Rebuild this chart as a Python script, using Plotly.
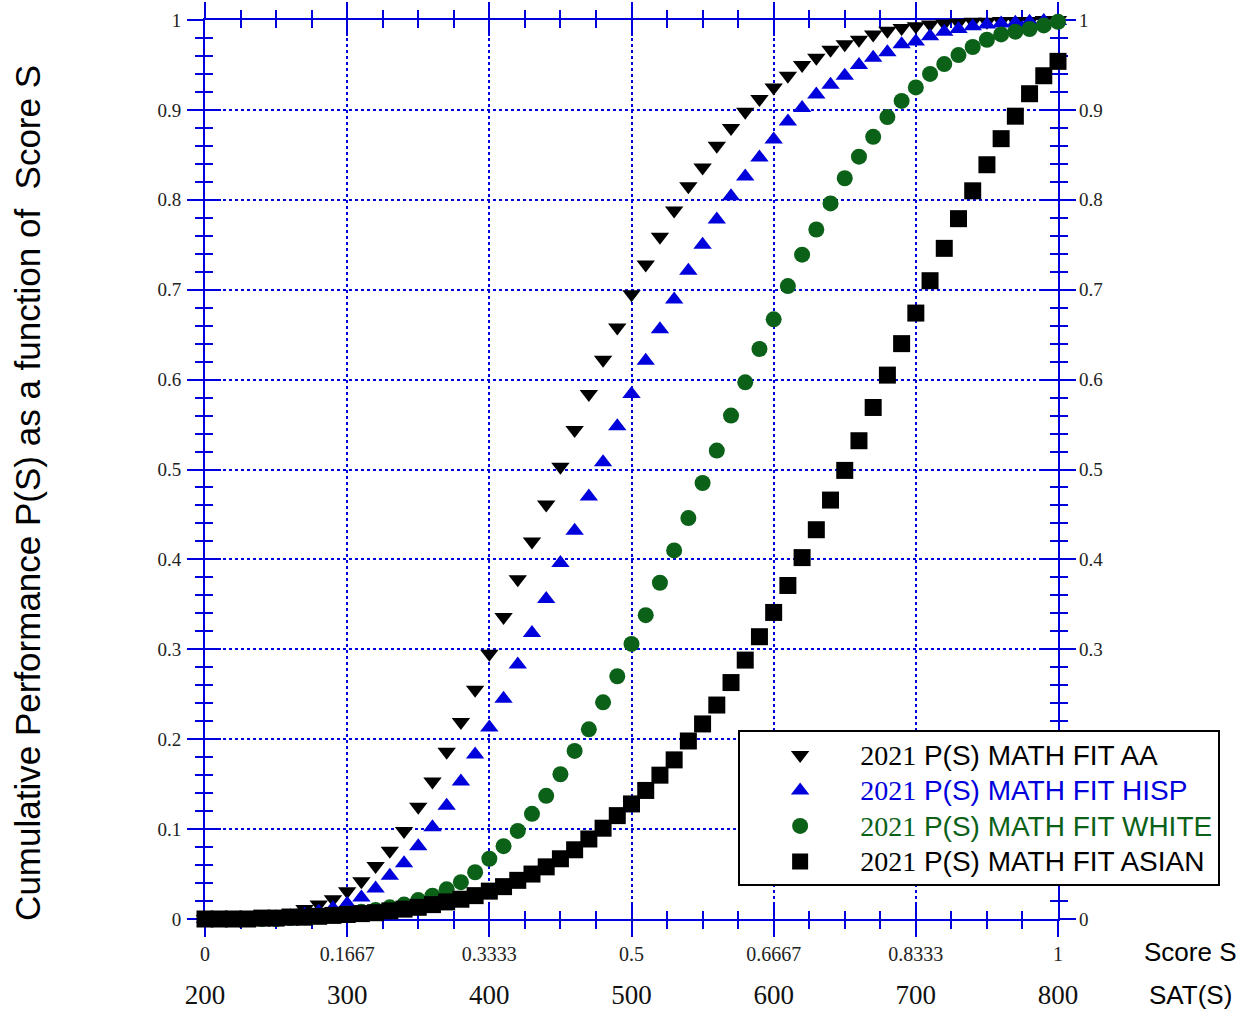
import plotly.graph_objects as go

# ---------------- data ----------------
sat_scores = list(range(200, 810, 10))  # 61 SAT scores, S = (SAT-200)/600

p_aa = [0.000, 0.000, 0.000, 0.001, 0.002, 0.004, 0.007, 0.011, 0.016, 0.022,
        0.031, 0.042, 0.059, 0.076, 0.098, 0.125, 0.153, 0.186, 0.219, 0.255,
        0.295, 0.336, 0.378, 0.420, 0.461, 0.503, 0.544, 0.584, 0.622, 0.658,
        0.695, 0.728, 0.759, 0.788, 0.815, 0.836, 0.860, 0.880, 0.898, 0.912,
        0.925, 0.938, 0.950, 0.958, 0.967, 0.973, 0.978, 0.984, 0.988, 0.991,
        0.993, 0.995, 0.996, 0.997, 0.998, 0.998, 0.999, 0.999, 0.999, 1.000,
        1.000]

p_hisp = [0.000, 0.000, 0.000, 0.000, 0.001, 0.002, 0.003, 0.005, 0.008, 0.012,
          0.017, 0.024, 0.034, 0.048, 0.062, 0.081, 0.102, 0.126, 0.153, 0.183,
          0.213, 0.245, 0.283, 0.318, 0.356, 0.396, 0.432, 0.470, 0.508, 0.548,
          0.584, 0.621, 0.656, 0.689, 0.721, 0.750, 0.778, 0.804, 0.826, 0.847,
          0.867, 0.887, 0.902, 0.917, 0.928, 0.938, 0.950, 0.958, 0.964, 0.973,
          0.976, 0.982, 0.987, 0.990, 0.993, 0.995, 0.996, 0.997, 0.998, 0.999,
          0.999]

p_white = [0.000, 0.000, 0.000, 0.000, 0.000, 0.000, 0.001, 0.002, 0.003, 0.004,
           0.006, 0.008, 0.010, 0.013, 0.016, 0.021, 0.026, 0.033, 0.041, 0.052,
           0.067, 0.081, 0.098, 0.117, 0.137, 0.161, 0.187, 0.211, 0.241, 0.270,
           0.306, 0.338, 0.374, 0.410, 0.446, 0.485, 0.521, 0.560, 0.597, 0.634,
           0.667, 0.704, 0.739, 0.767, 0.796, 0.824, 0.848, 0.870, 0.892, 0.910,
           0.925, 0.940, 0.951, 0.961, 0.970, 0.978, 0.984, 0.987, 0.990, 0.994,
           0.998]

p_asian = [0.000, 0.000, 0.000, 0.000, 0.001, 0.001, 0.002, 0.002, 0.003, 0.004,
           0.005, 0.006, 0.007, 0.009, 0.011, 0.013, 0.016, 0.019, 0.022, 0.026,
           0.031, 0.036, 0.043, 0.050, 0.058, 0.067, 0.077, 0.089, 0.101, 0.115,
           0.128, 0.143, 0.160, 0.177, 0.198, 0.217, 0.238, 0.263, 0.288, 0.314,
           0.341, 0.371, 0.402, 0.433, 0.466, 0.499, 0.532, 0.569, 0.605, 0.640,
           0.674, 0.710, 0.746, 0.779, 0.810, 0.839, 0.868, 0.893, 0.918, 0.938,
           0.954]

series_labels = ["2021 P(S) MATH FIT AA", "2021 P(S) MATH FIT HISP",
                 "2021 P(S) MATH FIT WHITE", "2021 P(S) MATH FIT ASIAN"]

x_tick_values = [200, 300, 400, 500, 600, 700, 800]
s_tick_labels = ["0", "0.1667", "0.3333", "0.5", "0.6667", "0.8333", "1"]
sat_tick_labels = ["200", "300", "400", "500", "600", "700", "800"]
y_tick_values = [0, 0.1, 0.2, 0.3, 0.4, 0.5, 0.6, 0.7, 0.8, 0.9, 1.0]
y_tick_labels = ["0", "0.1", "0.2", "0.3", "0.4", "0.5", "0.6", "0.7", "0.8", "0.9", "1"]

# ---------------- styles ----------------
BLUE = "#0000dd"
GREEN = "#0b6118"
SERIF = "Liberation Serif, Times New Roman, serif"
SANS = "Liberation Sans, Arial, sans-serif"

series_styles = [
    dict(values=p_aa, color="black", symbol="triangle-down", size=16, text_color="black"),
    dict(values=p_hisp, color="#0000dd", symbol="triangle-up", size=16, text_color="#0000dd"),
    dict(values=p_white, color=GREEN, symbol="circle", size=16, text_color=GREEN),
    dict(values=p_asian, color="black", symbol="square", size=17, text_color="black"),
]

fig = go.Figure()
for label, st in zip(series_labels, series_styles):
    year, rest = label.split(" ", 1)
    name = (f'<span style="color:{st["text_color"]};font-size:28px">'
            f'<span style="font-family:Liberation Serif">{year}</span> {rest}</span>')
    fig.add_trace(go.Scatter(
        x=sat_scores, y=st["values"], mode="markers", name=name,
        marker=dict(symbol=st["symbol"], size=st["size"], color=st["color"],
                    line=dict(width=0)),
        cliponaxis=False,
    ))

# invisible trace for the overlay axes
fig.add_trace(go.Scatter(x=[None], y=[None], xaxis="x2", yaxis="y2",
                         showlegend=False, hoverinfo="skip"))

tick_common = dict(tickcolor=BLUE, tickwidth=2, ticklen=16)
minor_common = dict(tickcolor=BLUE, tickwidth=2, ticklen=8, showgrid=False)

fig.update_layout(
    width=1255, height=1014,
    margin=dict(l=205, r=197, t=20, b=95, autoexpand=False),
    paper_bgcolor="white", plot_bgcolor="white",
    showlegend=True,
    xaxis=dict(
        range=[200, 800], tickmode="array", tickvals=x_tick_values, ticktext=s_tick_labels,
        ticks="outside", **tick_common, mirror="ticks", automargin=False,
        showline=True, linecolor=BLUE, linewidth=2,
        showgrid=True, gridcolor=BLUE, gridwidth=1.5, griddash="dot",
        zeroline=False, layer="below traces",
        minor=dict(tick0=200, dtick=25, ticks="outside", **minor_common),
        tickfont=dict(family=SERIF, size=20, color="#222222"),
        ticklabelstandoff=0,
    ),
    xaxis2=dict(
        overlaying="x", anchor="y", side="bottom", matches="x", automargin=False,
        range=[200, 800], tickmode="array", tickvals=x_tick_values, ticktext=sat_tick_labels,
        ticks="inside", **tick_common, mirror="ticks",
        showline=False, showgrid=False, zeroline=False, layer="below traces",
        minor=dict(tick0=200, dtick=25, ticks="inside", **minor_common),
        tickfont=dict(family=SERIF, size=27, color="#111111"),
        ticklabelstandoff=57,
    ),
    yaxis=dict(
        range=[0, 1], tickmode="array", tickvals=y_tick_values, ticktext=y_tick_labels,
        ticks="outside", **tick_common, mirror="ticks", automargin=False,
        showline=True, linecolor=BLUE, linewidth=2,
        showgrid=True, gridcolor=BLUE, gridwidth=1.5, griddash="dot",
        zeroline=False, layer="below traces",
        minor=dict(tick0=0, dtick=0.02, ticks="outside", **minor_common),
        tickfont=dict(family=SERIF, size=19, color="#222222"),
        ticklabelstandoff=2,
    ),
    yaxis2=dict(
        overlaying="y", anchor="x", side="right", matches="y", automargin=False,
        range=[0, 1], tickmode="array", tickvals=y_tick_values, ticktext=y_tick_labels,
        ticks="inside", **tick_common, mirror="ticks",
        showline=False, showgrid=False, zeroline=False, layer="below traces",
        minor=dict(tick0=0, dtick=0.02, ticks="inside", **minor_common),
        tickfont=dict(family=SERIF, size=19, color="#222222"),
        ticklabelstandoff=20,
    ),
    legend=dict(
        x=0.625, y=0.21, xanchor="left", yanchor="top",
        bgcolor="white", bordercolor="black", borderwidth=2,
        font=dict(family=SANS, size=25, color="black"),
        itemwidth=110, tracegroupgap=0,
    ),
    annotations=[
        dict(text="Cumulative Performance P(S) as a function of  Score S",
             xref="paper", yref="paper", x=-0.2075, y=0.474, textangle=-90,
             showarrow=False, xanchor="center", yanchor="middle",
             font=dict(family=SANS, size=35, color="black")),
        dict(text="Score S", xref="paper", yref="paper", x=1.155, y=-0.037,
             showarrow=False, xanchor="center", yanchor="middle",
             font=dict(family=SANS, size=26, color="black")),
        dict(text="SAT(S)", xref="paper", yref="paper", x=1.155, y=-0.085,
             showarrow=False, xanchor="center", yanchor="middle",
             font=dict(family=SANS, size=26, color="black")),
    ],
)

fig.write_html("out.html", config={"displayModeBar": False},
               post_script="document.body.style.margin='0';document.body.style.padding='0';")
